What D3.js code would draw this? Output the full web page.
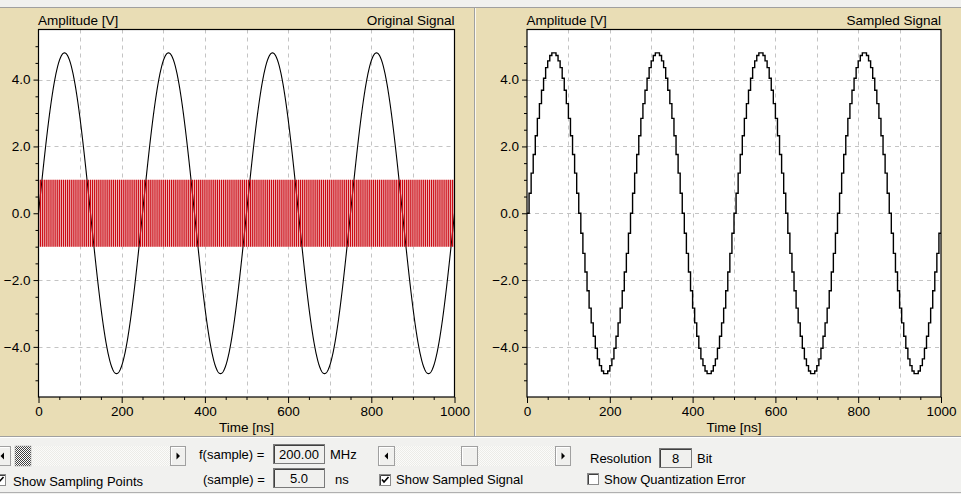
<!DOCTYPE html>
<html>
<head>
<meta charset="utf-8">
<script src="https://cdn.jsdelivr.net/npm/d3@7"></script>
<style>
  html, body { margin: 0; padding: 0; background: #f0f0f0; }
  svg { display: block; }
  text { font-family: "Liberation Sans", Arial, sans-serif; }
</style>
</head>
<body>
<svg id="chart" width="961" height="494"></svg>
<script>
// ---------------- data ----------------
const panelTitles = ["Original Signal", "Sampled Signal"];
const yAxisLabel = "Amplitude [V]";
const xAxisLabel = "Time [ns]";
const timeDomainNs = [0, 1000];
const amplitudeDomainV = [-5.5, 5.5];
const xTickValues = [0, 200, 400, 600, 800, 1000];
const xMinorTickValues = [50, 100, 150, 250, 300, 350, 450, 500, 550, 650, 700, 750, 850, 900, 950];
const xGridValues = [100, 200, 300, 400, 500, 600, 700, 800, 900];
const yTickValues = [-4, -2, 0, 2, 4];
const yMinorTickValues = [-5, -4.5, -3.5, -3, -2.5, -1.5, -1, -0.5, 0.5, 1, 1.5, 2.5, 3, 3.5, 4.5, 5];
const yGridValues = [-4, -2, 0, 2, 4];
const signalAmplitudeV = [4.8];
const signalPeriodNs = [250];
const sampleFrequencyMHz = ["200.00"];
const sampleIntervalNs = [5.0];
const resolutionBits = [8];
const fullScaleV = [5.12];
const samplingMarkerV = [-1, 1];

// ---------------- layout ----------------
const svg = d3.select("#chart");
const W = 961, H = 494;
const beige = "#e9ddb5";
const FONT = 13.5;
const CFONT = 13;

// background chrome
svg.append("rect").attr("x", 0).attr("y", 0).attr("width", W).attr("height", H).attr("fill", "#f1f1ef");
svg.append("rect").attr("x", 0).attr("y", 8).attr("width", W).attr("height", 428).attr("fill", beige);
svg.append("line").attr("x1", 0).attr("x2", W).attr("y1", 7.5).attr("y2", 7.5).attr("stroke", "#a0a0a0");
svg.append("line").attr("x1", 0).attr("x2", W).attr("y1", 436.5).attr("y2", 436.5).attr("stroke", "#a0a0a0");
svg.append("line").attr("x1", 0).attr("x2", W).attr("y1", 437.5).attr("y2", 437.5).attr("stroke", "#ffffff");
svg.append("line").attr("x1", 474.5).attr("x2", 474.5).attr("y1", 8).attr("y2", 436).attr("stroke", "#a0a0a0");
svg.append("line").attr("x1", 475.5).attr("x2", 475.5).attr("y1", 8).attr("y2", 436).attr("stroke", "#fbf8ee");
svg.append("line").attr("x1", 0).attr("x2", W).attr("y1", 492.5).attr("y2", 492.5).attr("stroke", "#b0b0b0");

// signal computation (physics of the simulated instrument)
const fineTimes = d3.range(timeDomainNs[0], timeDomainNs[1] + 0.001, 0.5);
const original = fineTimes.map(t => ({ t, v: signalAmplitudeV[0] * Math.sin(2 * Math.PI * t / signalPeriodNs[0]) }));
const sampleTimes = d3.range(timeDomainNs[0], timeDomainNs[1] - 0.001, sampleIntervalNs[0]);
const lsb = 2 * fullScaleV[0] / Math.pow(2, resolutionBits[0]);
const sampled = sampleTimes.map(t => {
  const v = signalAmplitudeV[0] * Math.sin(2 * Math.PI * t / signalPeriodNs[0]);
  return { t, v: Math.round(v / lsb) * lsb };
});
sampled.push({ t: timeDomainNs[1], v: sampled[sampled.length - 1].v });
const markerTimes = d3.range(timeDomainNs[0], timeDomainNs[1] + 0.001, sampleIntervalNs[0]);

const panels = [
  { x0: 38.5, x1: 454.5, title: panelTitles[0], kind: "orig" },
  { x0: 527, x1: 941, title: panelTitles[1], kind: "sampled" }
];
const plotTop = 29.5, plotBottom = 397;

panels.forEach(p => {
  const g = svg.append("g");
  const x = d3.scaleLinear().domain(timeDomainNs).range([p.x0, p.x1]);
  const y = d3.scaleLinear().domain(amplitudeDomainV).range([plotBottom, plotTop]);

  g.append("rect").attr("x", p.x0).attr("y", plotTop).attr("width", p.x1 - p.x0).attr("height", plotBottom - plotTop)
    .attr("fill", "#ffffff");

  // grid
  g.append("g").selectAll("line").data(xGridValues).join("line")
    .attr("x1", d => Math.round(x(d)) + 0.5).attr("x2", d => Math.round(x(d)) + 0.5)
    .attr("y1", plotTop).attr("y2", plotBottom)
    .attr("stroke", "#c4c4c4").attr("stroke-dasharray", "4,4");
  g.append("g").selectAll("line").data(yGridValues).join("line")
    .attr("y1", d => Math.round(y(d)) + 0.5).attr("y2", d => Math.round(y(d)) + 0.5)
    .attr("x1", p.x0).attr("x2", p.x1)
    .attr("stroke", "#c4c4c4").attr("stroke-dasharray", "4,4");

  const clipId = "clip-" + p.kind;
  svg.append("clipPath").attr("id", clipId).append("rect")
    .attr("x", p.x0).attr("y", plotTop).attr("width", p.x1 - p.x0).attr("height", plotBottom - plotTop);

  const plot = g.append("g").attr("clip-path", `url(#${clipId})`);
  if (p.kind === "orig") {
    plot.append("rect").attr("x", p.x0).attr("width", p.x1 - p.x0)
      .attr("y", y(samplingMarkerV[1])).attr("height", y(samplingMarkerV[0]) - y(samplingMarkerV[1]))
      .attr("fill", "#f4d6d6");
    plot.append("path").datum(original)
      .attr("d", d3.line().x(d => x(d.t)).y(d => y(d.v)))
      .attr("fill", "none").attr("stroke", "#000").attr("stroke-width", 1.1);
    plot.append("g").selectAll("line").data(markerTimes).join("line")
      .attr("x1", d => x(d)).attr("x2", d => x(d))
      .attr("y1", y(samplingMarkerV[1])).attr("y2", y(samplingMarkerV[0]))
      .attr("stroke", "#cc0a14").attr("stroke-width", 1.25);
  } else {
    plot.append("path").datum(sampled)
      .attr("d", d3.line().x(d => x(d.t)).y(d => y(d.v)).curve(d3.curveStepAfter))
      .attr("fill", "none").attr("stroke", "#000").attr("stroke-width", 1.4);
  }

  // frame
  g.append("rect").attr("x", p.x0).attr("y", plotTop).attr("width", p.x1 - p.x0).attr("height", plotBottom - plotTop)
    .attr("fill", "none").attr("stroke", "#000").attr("stroke-width", 1.2);

  // axes
  g.append("g").attr("transform", `translate(0,${plotBottom})`)
    .call(d3.axisBottom(x).tickValues(xTickValues).tickSize(6).tickPadding(3).tickFormat(d3.format("d")));
  g.append("g").attr("transform", `translate(0,${plotBottom})`)
    .call(d3.axisBottom(x).tickValues(xMinorTickValues).tickSize(3).tickFormat(""));
  g.append("g").attr("transform", `translate(${p.x0},0)`)
    .call(d3.axisLeft(y).tickValues(yTickValues).tickSize(5).tickPadding(3).tickFormat(d3.format(".1f")));
  g.append("g").attr("transform", `translate(${p.x0},0)`)
    .call(d3.axisLeft(y).tickValues(yMinorTickValues).tickSize(3).tickFormat(""));
  g.selectAll(".domain").remove();
  g.selectAll(".tick line").attr("stroke", "#000");
  g.selectAll(".tick text").attr("fill", "#000").style("font-size", FONT + "px")
    .style("font-family", "'Liberation Sans', Arial, sans-serif");

  // labels
  g.append("text").attr("x", p.x0 - 0.5).attr("y", 25).text(yAxisLabel)
    .attr("font-size", FONT).attr("fill", "#000");
  g.append("text").attr("x", p.x1).attr("y", 25).attr("text-anchor", "end").text(p.title)
    .attr("font-size", FONT).attr("fill", "#000");
  g.append("text").attr("x", (p.x0 + p.x1) / 2).attr("y", 432).attr("text-anchor", "middle").text(xAxisLabel)
    .attr("font-size", FONT).attr("fill", "#000");
});

// ---------------- control panel ----------------
const defs = svg.append("defs");
const pat = defs.append("pattern").attr("id", "dither").attr("width", 2).attr("height", 2).attr("patternUnits", "userSpaceOnUse");
pat.append("rect").attr("width", 2).attr("height", 2).attr("fill", "#ffffff");
pat.append("rect").attr("width", 1).attr("height", 1).attr("fill", "#404040");
pat.append("rect").attr("x", 1).attr("y", 1).attr("width", 1).attr("height", 1).attr("fill", "#404040");
const pat2 = defs.append("pattern").attr("id", "track").attr("width", 2).attr("height", 2).attr("patternUnits", "userSpaceOnUse");
pat2.append("rect").attr("width", 2).attr("height", 2).attr("fill", "#fbfbfa");
pat2.append("rect").attr("width", 1).attr("height", 1).attr("fill", "#ecece8");
pat2.append("rect").attr("x", 1).attr("y", 1).attr("width", 1).attr("height", 1).attr("fill", "#ecece8");

const ctl = svg.append("g");
function button(x, yy, w, h, arrow) {
  ctl.append("rect").attr("x", x + 0.5).attr("y", yy + 0.5).attr("width", w - 1).attr("height", h - 1)
    .attr("fill", "#f0f0ee").attr("stroke", "#a0a0a0");
  ctl.append("path").attr("d", `M${x + 1.5},${yy + h - 1.5} V${yy + 1.5} H${x + w - 1.5}`).attr("fill", "none").attr("stroke", "#ffffff");
  if (arrow) {
    const cx = x + w / 2, cy = yy + h / 2;
    const d = arrow === "left" ? `M${cx + 1.5},${cy - 3.5} L${cx - 2},${cy} L${cx + 1.5},${cy + 3.5} Z`
                               : `M${cx - 1.5},${cy - 3.5} L${cx + 2},${cy} L${cx - 1.5},${cy + 3.5} Z`;
    ctl.append("path").attr("d", d).attr("fill", "#000");
  }
}
function textbox(x, yy, w, h, txt) {
  ctl.append("rect").attr("x", x + 0.5).attr("y", yy + 0.5).attr("width", w - 1).attr("height", h - 1)
    .attr("fill", "#f0f0ee").attr("stroke", "#7a7a7a");
  ctl.append("path").attr("d", `M${x + 1.5},${yy + h - 1} V${yy + 1.5} H${x + w - 1}`).attr("fill", "none").attr("stroke", "#404040");
  ctl.append("text").attr("x", x + w / 2).attr("y", yy + h / 2 + 4.5).attr("text-anchor", "middle")
    .attr("font-size", CFONT).text(txt);
}
function label(x, yy, txt, anchor) {
  ctl.append("text").attr("x", x).attr("y", yy).attr("font-size", CFONT).attr("text-anchor", anchor || "start").text(txt);
}
function checkbox(x, yy, checked) {
  ctl.append("rect").attr("x", x + 0.5).attr("y", yy + 0.5).attr("width", 11).attr("height", 11)
    .attr("fill", "#ffffff").attr("stroke", "#8a8a8a");
  ctl.append("path").attr("d", `M${x + 1.5},${yy + 11} V${yy + 1.5} H${x + 11}`).attr("fill", "none").attr("stroke", "#404040");
  if (checked) {
    ctl.append("path").attr("d", `M${x + 3},${yy + 5.5} L${x + 5},${yy + 8} L${x + 9.5},${yy + 3}`)
      .attr("fill", "none").attr("stroke", "#000").attr("stroke-width", 1.6);
  }
}

// scrollbar 1
ctl.append("rect").attr("x", 0).attr("y", 446).attr("width", 186).attr("height", 20).attr("fill", "url(#track)");
button(-6, 446, 17, 20, "left");
ctl.append("rect").attr("x", 15).attr("y", 446).attr("width", 16).attr("height", 20).attr("fill", "url(#dither)")
  .attr("stroke", "#a0a0a0").attr("stroke-width", 0.5);
button(170, 446, 16, 20, "right");

label(199, 459, "f(sample) =");
textbox(273, 444, 52, 20, sampleFrequencyMHz[0]);
label(330, 459, "MHz");
label(203, 484, "(sample) =");
textbox(273, 468, 52, 20, sampleIntervalNs[0].toFixed(1));
label(335, 484, "ns");

checkbox(-6, 474, true);
label(13, 486, "Show Sampling Points");

// scrollbar 2
ctl.append("rect").attr("x", 378).attr("y", 446).attr("width", 193).attr("height", 20).attr("fill", "url(#track)");
button(378, 446, 17, 20, "left");
button(461, 446, 17, 20, null);
button(555, 446, 16, 20, "right");

checkbox(379, 474, true);
label(396, 484, "Show Sampled Signal");

label(590, 463, "Resolution");
textbox(659, 448, 33, 20, String(resolutionBits[0]));
label(697, 463, "Bit");
checkbox(587, 473, false);
label(604, 484, "Show Quantization Error");
</script>
</body>
</html>
